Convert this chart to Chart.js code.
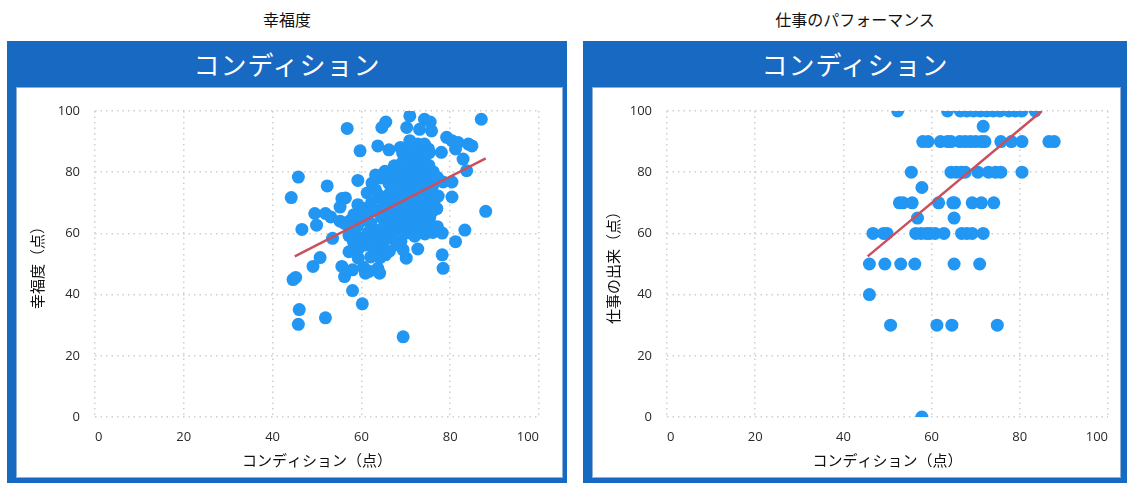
<!DOCTYPE html>
<html>
<head>
<meta charset="utf-8">
<script src="https://cdn.jsdelivr.net/npm/chart.js@4.4.1/dist/chart.umd.min.js"></script>
<style>
  html, body { margin:0; padding:0; background:#ffffff; }
  body { width:1131px; height:483px; position:relative; overflow:hidden; font-family:"Noto Sans CJK JP","Noto Sans",sans-serif; }
  .title { position:absolute; top:7px; font-size:16px; color:#111; text-align:center; }
  .frame { position:absolute; top:41px; height:450px; background:#1769c2; }
  .head { position:absolute; top:41px; height:46px; line-height:46px; color:#fff; font-size:26px; text-align:center; letter-spacing:1px; }
  .panel { position:absolute; top:88px; background:#fff; box-shadow:0 0 0 1px #8fb0d6; }
  canvas { display:block; }
</style>
</head>
<body>
<div class="title" style="left:7px;width:560px;">幸福度</div>
<div class="title" style="left:583px;width:544px;">仕事のパフォーマンス</div>
<div class="frame" style="left:7px;width:560px;"></div>
<div class="frame" style="left:583px;width:544px;"></div>
<div class="head" style="left:7px;width:560px;">コンディション</div>
<div class="head" style="left:583px;width:544px;">コンディション</div>
<div class="panel" style="left:17px;width:545px;height:389px;"><canvas id="c1" width="545" height="389"></canvas></div>
<div class="panel" style="left:593px;width:527px;height:389px;"><canvas id="c2" width="527" height="389"></canvas></div>
<script>
// ---- data ----
const xTicks = [0, 20, 40, 60, 80, 100];
const yTicks = [0, 20, 40, 60, 80, 100];
const xAxisTitle = "コンディション（点）";
const yTitleHappy = "幸福度（点）";
const yTitleWork = "仕事の出来（点）";

// 幸福度 chart: condition (x) vs happiness (y)
const happyCond = [
 44.2,45.8,46.6,44.6,45.2,46.0,45.8,51.9,69.4,56.8,52.3,49.5,49.9,49.1,50.7,53.5,51.9,53.1,55.2,55.6,
 56.4,55.2,55.6,56.2,58.0,60.2,57.2,59.7,59.2,63.7,64.6,65.5,70.9,70.2,74.2,75.5,73.1,75.8,68.8,70.9,
 72.7,75.1,78.0,79.2,80.4,81.2,81.8,84.1,84.9,87.0,82.9,83.7,78.4,80.4,80.4,88.0,83.3,81.2,78.2,78.4,
 75.1,74.3,72.7,70.1,69.4,65.4,63.7,64.1,60.5,60.9,61.7,59.3,58.0,64.6,
 58.2,58.6,59.1,59.4,60.3,60.1,60.6,61.2,61.5,61.0,62.3,62.1,62.6,62.4,63.2,63.4,63.1,62.8,64.3,64.1,
 64.5,64.2,65.3,65.1,65.6,65.2,64.9,66.2,66.4,66.1,66.3,66.0,67.4,67.1,67.3,67.2,66.8,67.0,68.1,68.3,
 68.2,68.4,68.0,68.3,69.3,69.1,69.2,69.4,69.0,69.1,68.9,70.3,70.1,70.2,70.4,70.0,70.2,70.4,71.1,71.3,
 71.2,71.0,71.4,71.1,71.3,72.2,72.0,72.3,72.1,72.4,72.2,72.0,73.2,73.1,73.4,73.0,73.3,73.1,73.2,74.3,
 74.1,74.2,74.0,74.3,74.1,75.2,75.0,75.3,75.1,75.4,76.2,76.0,76.3,76.1,76.4,77.1,77.3,77.0,62.1,64.2,
 66.3,68.1,63.2,61.3,59.2,57.4,57.2,56.3,58.3,66.2,67.3,69.2,75.3,74.2,76.1,78.2,77.1
];
const happiness = [
 71.7,78.4,61.3,44.9,45.6,35.1,30.3,32.4,26.2,94.3,75.5,66.5,62.7,49.2,52.1,58.4,66.5,65.4,64.0,71.4,
 71.6,68.6,49.2,45.9,41.3,37.0,54.0,87.0,77.3,88.6,94.6,96.4,98.4,94.6,97.3,96.4,94.0,93.5,88.1,90.3,
 89.2,87.6,86.5,91.4,90.3,87.6,89.7,89.2,88.6,97.3,84.3,80.5,76.8,76.8,71.9,67.2,61.1,57.3,53.0,48.6,
 61.1,59.8,54.9,51.9,54.6,53.0,48.6,47.0,48.9,47.0,47.6,51.9,48.1,55.1,
 57.3,60.2,62.4,55.1,58.3,64.2,68.1,66.4,60.3,56.2,70.1,63.3,58.2,76.4,74.2,67.3,61.1,55.4,78.1,72.3,
 65.2,59.4,80.3,70.2,66.1,62.4,57.2,76.3,73.1,68.4,64.2,60.3,82.1,78.3,71.2,67.4,63.1,58.3,80.2,75.4,
 72.1,69.3,65.2,61.4,86.2,78.4,74.1,70.3,66.2,62.1,57.4,84.3,80.1,76.2,72.4,68.1,64.3,60.2,88.1,82.4,
 78.2,74.3,70.1,66.4,62.2,85.3,80.2,76.4,72.1,68.3,64.2,59.1,87.2,83.1,78.4,74.2,70.3,66.1,62.4,85.1,
 80.3,76.2,71.4,67.1,63.3,82.2,78.1,73.4,69.2,65.3,80.1,75.3,70.2,67.4,62.1,78.3,72.2,68.1,52.3,52.1,
 54.2,56.3,79.1,73.2,69.4,64.1,59.3,63.2,66.1,87.3,75.2,83.1,86.4,89.2,60.3,60.1,62.2
];
const happyTrendX = [45, 88];
const happyTrendY = [52.5, 84.5];

// 仕事のパフォーマンス chart: condition (x) vs work performance (y)
const workCond = [
 52.3,63.6,66.5,68.0,69.5,71.0,72.5,74.0,75.5,77.5,79.0,80.5,83.5,
 71.7,
 58.0,59.2,62.0,63.6,64.4,66.4,67.6,68.8,70.0,71.3,72.1,75.7,78.1,80.5,86.6,87.8,
 55.4,64.4,65.6,66.8,67.6,70.5,72.9,74.5,75.7,80.5,
 57.8,
 52.7,53.5,55.6,61.6,64.8,65.2,69.2,71.3,74.1,
 56.8,65.1,
 46.7,49.1,49.9,56.4,57.6,58.8,59.6,60.8,62.8,66.8,68.0,69.2,71.7,
 45.9,49.4,53.0,56.2,65.1,70.9,
 45.9,
 50.7,61.2,64.6,74.9,
 57.8
];
const workPerf = [
 100,100,100,100,100,100,100,100,100,100,100,100,100,
 95,
 90,90,90,90,90,90,90,90,90,90,90,90,90,90,90,90,
 80,80,80,80,80,80,80,80,80,80,
 75,
 70,70,70,70,70,70,70,70,70,
 65,65,
 60,60,60,60,60,60,60,60,60,60,60,60,60,
 50,50,50,50,50,50,
 40,
 30,30,30,30,
 0
];
const workTrendX = [45.5, 85];
const workTrendY = [52.5, 100];

// ---- drawing ----
const pointColor = "#2196f3";
const lineColor = "#c9505c";
const tickFont = { family: "'Open Sans','Noto Sans CJK JP',sans-serif", size: 13 };
const titleFont = { family: "'Noto Sans CJK JP',sans-serif", size: 15 };

function pairs(xs, ys) { return xs.map((x, i) => ({ x: x, y: ys[i] })); }

function makeChart(id, xs, ys, tx, ty, yTitle, yWidth, rightPad) {
  new Chart(document.getElementById(id), {
    type: "scatter",
    data: {
      datasets: [
        { type: "line", data: pairs(tx, ty), borderColor: lineColor, borderWidth: 2.5,
          pointRadius: 0, fill: false, tension: 0 },
        { data: pairs(xs, ys), backgroundColor: pointColor, borderColor: pointColor,
          borderWidth: 0, pointRadius: 6.5 }
      ]
    },
    options: {
      responsive: false,
      animation: false,
      layout: { padding: { top: 23, right: rightPad, bottom: 0, left: 0 } },
      plugins: { legend: { display: false }, tooltip: { enabled: false }, title: { display: false } },
      scales: {
        x: {
          type: "linear", min: 0, max: 100,
          afterBuildTicks: s => { s.ticks = xTicks.map(v => ({ value: v })); },
          afterFit: s => { s.height = 60; },
          grid: { color: "#cfcfcf", lineWidth: 1.5, drawTicks: false },
          border: { display: false, dash: [1.5, 4] },
          ticks: { font: tickFont, color: "#2a2a2a", padding: 12, align: "inner", maxRotation: 0 },
          title: { display: true, text: xAxisTitle, font: titleFont, color: "#111", padding: { top: 0, bottom: 8 } }
        },
        y: {
          type: "linear", min: 0, max: 100,
          afterBuildTicks: s => { s.ticks = yTicks.map(v => ({ value: v })); },
          afterFit: s => { s.width = yWidth; },
          grid: { color: "#cfcfcf", lineWidth: 1.5, drawTicks: false },
          border: { display: false, dash: [1.5, 4] },
          ticks: { font: tickFont, color: "#2a2a2a", padding: 15 },
          title: { display: true, text: yTitle, font: titleFont, color: "#111", padding: { top: 11, bottom: 0 } }
        }
      }
    }
  });
}

Chart.defaults.scale.grid.borderDash = [1.5, 4];
makeChart("c1", happyCond, happiness, happyTrendX, happyTrendY, yTitleHappy, 78, 23);
makeChart("c2", workCond, workPerf, workTrendX, workTrendY, yTitleWork, 74, 9);
</script>
</body>
</html>
